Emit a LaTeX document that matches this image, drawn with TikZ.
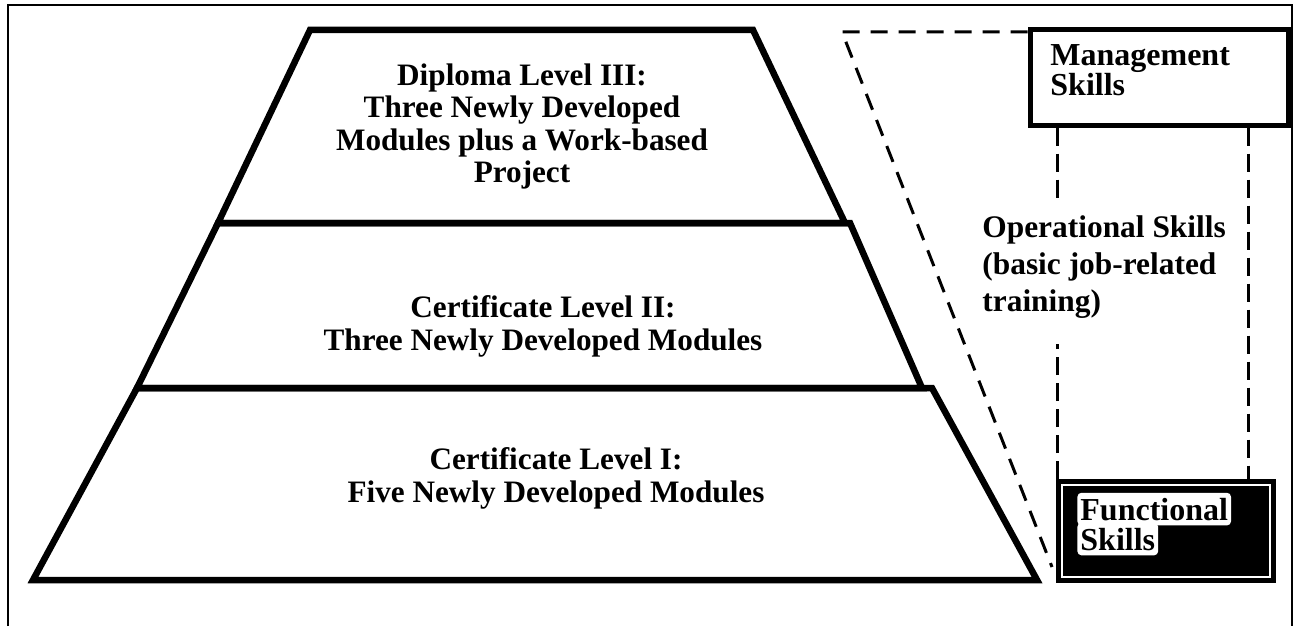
\documentclass[tikz,border=0pt]{standalone}
\usepackage{fontspec}
\setmainfont{Liberation Serif}
\begin{document}
\begin{tikzpicture}[x=0.5pt,y=-0.5pt,
  layer/.style={line width=3.25pt, line join=miter},
  frameline/.style={line width=1pt},
  dline/.style={line width=1.5pt, dash pattern=on 8.5pt off 5.5pt},
  vline/.style={line width=1.5pt, dash pattern=on 9pt off 4pt},
  pyrtext/.style={font=\bfseries\fontsize{15.6}{16.2}\selectfont, align=center, inner sep=0pt},
  sidetext/.style={font=\bfseries\fontsize{15.7}{18.5}\selectfont, align=left, inner sep=0pt},
  whitelab/.style={font=\bfseries\fontsize{16}{16}\selectfont, fill=white, inner xsep=1.5pt, inner ysep=2.5pt, rounded corners=2pt}
]
\useasboundingbox (0,0) rectangle (1304,626);
% outer frame
\draw[frameline] (8,626) -- (8,5) -- (1292,5) -- (1292,626);
% pyramid
\draw[layer] (310,30) -- (753,30) -- (845,223) -- (218,223) -- cycle;
\draw[layer] (218,223) -- (850,223) -- (922,388) -- (137,388) -- cycle;
\draw[layer] (137,388) -- (932,388) -- (1037,580) -- (33,580) -- cycle;
\node[pyrtext] (dip) at (522,126.5) {Diploma Level III:\\Three Newly Developed\\Modules plus a Work-based\\Project};
\node[pyrtext] (cert2) at (543,326.5) {Certificate Level II:\\Three Newly Developed Modules};
\node[pyrtext] (cert1) at (556,478.5) {Certificate Level I:\\Five Newly Developed Modules};
% boxes
\node[draw, line width=2.5pt, minimum width=129pt, minimum height=47.5pt, inner sep=0pt] (mgmt) at (1159,77.5) {};
\node[anchor=west, inner sep=0pt, align=left,
      font=\bfseries\fontsize{16}{15}\selectfont] (mgmttext) at (1050,70.5) {Management\\Skills};
\node[draw, fill=black, line width=1pt, minimum width=109pt, minimum height=51pt, inner sep=0pt] (func) at (1166,531) {};
\draw[white, line width=1pt] ([shift={(6,6)}]func.north west) rectangle ([shift={(-6,-6)}]func.south east);
\node[whitelab, anchor=base west] (funcb) at (1077,550) {Skills};
\node[whitelab, anchor=base west] (funca) at (1077,520) {Functional};
% dashed connectors
\coordinate (dc) at (842,32);
\coordinate (dl) at (1052,567);
\draw[dline] (mgmt.west |- dc) -- (dc) -- (dl);
\coordinate (lv) at (1057,300);
\coordinate (rv) at (1248,300);
\draw[vline] (lv |- mgmt.south) -- ++(0,70);
\draw[vline] (lv |- func.north) -- ++(0,-135);
\draw[vline] (rv |- mgmt.south) -- (rv |- func.north);
\node[sidetext, anchor=west] (oper) at (982,267.5) {Operational Skills\\(basic job-related\\training)};
\end{tikzpicture}
\end{document}
